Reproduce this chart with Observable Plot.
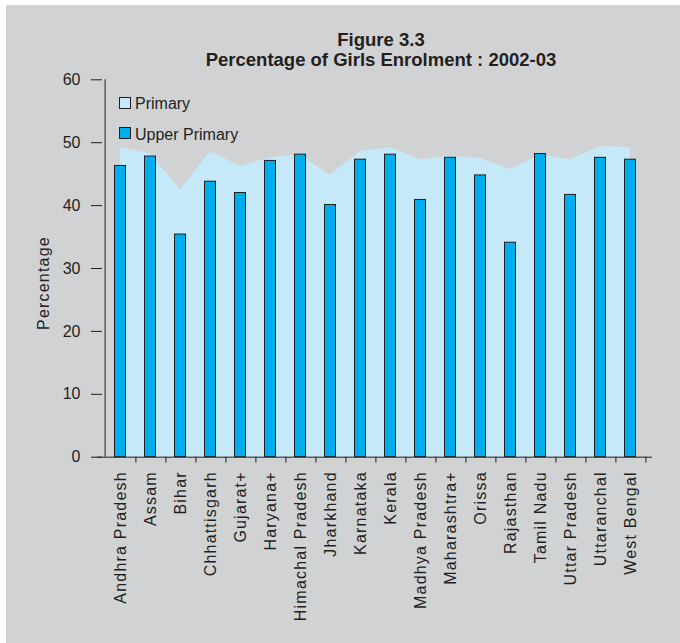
<!DOCTYPE html>
<html>
<head>
<meta charset="utf-8">
<script src="https://cdn.jsdelivr.net/npm/d3@7"></script>
<script src="https://cdn.jsdelivr.net/npm/@observablehq/plot@0.6"></script>
<style>
  html, body { margin: 0; padding: 0; background: #ffffff; }
  #wrap { position: relative; width: 680px; height: 643px; overflow: hidden; font-family: "Liberation Sans", Arial, sans-serif; color: #231f20; }
  #bg { position: absolute; left: 6px; top: 5px; width: 674px; height: 638px; background: #d1d2d4; }
  .title { position: absolute; left: 0; width: 762px; text-align: center; font-weight: bold; font-size: 18.5px; line-height: 20px; white-space: nowrap; }
  .sw { position: absolute; width: 10px; height: 10px; border: 1px solid #231f20; }
  .lt { position: absolute; font-size: 16px; line-height: 18px; white-space: nowrap; }
  #ylab { position: absolute; left: 44.3px; top: 282.8px; font-size: 16px; line-height: 18px; letter-spacing: 1.2px; white-space: nowrap; transform: translate(-50%, -50%) rotate(-90deg); }
  #chart { position: absolute; left: 0; top: 0; }
  #chart g[aria-label="x-axis tick label"] text { letter-spacing: 1.2px; }
</style>
</head>
<body>
<div id="wrap">
  <div id="bg"></div>
  <div id="chart"></div>
  <div class="title" style="top:30.3px">Figure 3.3</div>
  <div class="title" style="top:50.3px">Percentage of Girls Enrolment : 2002-03</div>
  <div class="sw" style="left:119px; top:97px; background:#c6e9f9"></div>
  <div class="lt" style="left:135px; top:94.5px">Primary</div>
  <div class="sw" style="left:119px; top:127px; background:#00aeef"></div>
  <div class="lt" style="left:135px; top:125.5px">Upper Primary</div>
  <div id="ylab">Percentage</div>
</div>
<script>
const states = ["Andhra Pradesh", "Assam", "Bihar", "Chhattisgarh", "Gujarat+", "Haryana+", "Himachal Pradesh", "Jharkhand", "Karnataka", "Kerala", "Madhya Pradesh", "Maharashtra+", "Orissa", "Rajasthan", "Tamil Nadu", "Uttar Pradesh", "Uttaranchal", "West Bengal"];
const primary = [49.2, 48.2, 42.5, 48.6, 46.2, 47.6, 48.0, 44.8, 48.6, 49.2, 47.3, 47.8, 47.5, 45.7, 48.1, 47.3, 49.4, 49.2];
const upperPrimary = [46.3, 47.8, 35.4, 43.8, 42.0, 47.1, 48.1, 40.1, 47.3, 48.1, 40.9, 47.6, 44.8, 34.1, 48.2, 41.7, 47.6, 47.3];
const yTicks = [0, 10, 20, 30, 40, 50, 60];

const rows = states.map((s, i) => ({state: s, primary: primary[i], upper: upperPrimary[i]}));

const W = 680, H = 643;
const mL = 97, mR = 28, mT = 79.3, mB = 186.3;
const bw = (W - mL - mR) / states.length;
const ink = "#231f20";

const chart = Plot.plot({
  width: W,
  height: H,
  marginLeft: mL,
  marginRight: mR,
  marginTop: mT,
  marginBottom: mB,
  style: {background: "transparent", fontFamily: "'Liberation Sans', Arial, sans-serif", fontSize: "16px", color: ink, overflow: "visible"},
  x: {domain: states, padding: 0, axis: null},
  y: {domain: [0, 60], axis: null},
  marks: [
    Plot.areaY(rows, {x: "state", y: "primary", fill: "#c6e9f9"}),
    Plot.barY(rows, {x: "state", y: "upper", fill: "#00aeef", stroke: ink, strokeWidth: 1, insetLeft: 9.5, insetRight: 9.5}),
    Plot.ruleY([0], {stroke: ink, strokeWidth: 1}),
    Plot.ruleX([states[0]], {dx: -bw / 2, stroke: ink, strokeWidth: 1}),
    Plot.ruleX(states, {x: d => d, dx: bw / 2, y1: 0, y2: -0.95, stroke: ink, strokeWidth: 1}),
    Plot.axisY({ticks: yTicks, tickSize: 11, dx: 5, tickPadding: 11, label: null, fontSize: 16, stroke: ink, fill: ink}),
    Plot.axisX({tickSize: 0, tickRotate: -90, tickPadding: 14, label: null, fontSize: 16, fill: ink})
  ]
});
document.getElementById("chart").appendChild(chart);
</script>
</body>
</html>
